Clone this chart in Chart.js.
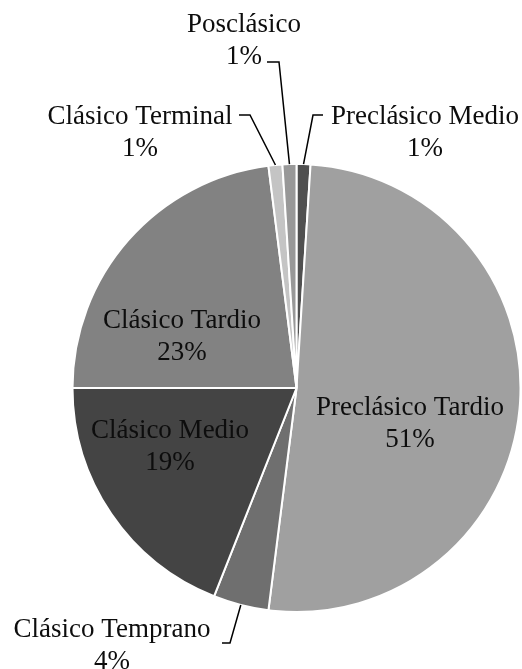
<!DOCTYPE html>
<html>
<head>
<meta charset="utf-8">
<script src="https://cdn.jsdelivr.net/npm/chart.js@4/dist/chart.umd.min.js"></script>
<style>
  html, body { margin: 0; padding: 0; background: #fff; }
  #wrap { width: 522px; height: 669px; }
</style>
</head>
<body>
<div id="wrap"><canvas id="pieChart" width="522" height="669"></canvas></div>
<script>
const periodos = ['Preclásico Medio', 'Preclásico Tardio', 'Clásico Temprano', 'Clásico Medio', 'Clásico Tardio', 'Clásico Terminal', 'Posclásico'];
const porcentajes = [1, 51, 4, 19, 23, 1, 1];
const colores = ['#505050', '#a0a0a0', '#6f6f6f', '#444444', '#828282', '#c4c4c4', '#989898'];

// label placement, offsets from the pie centre (px)
// inside: text centre x + first baseline; outside: also leader start / elbow
const etiquetas = [
  { dx: 128.5, dy: -264, lead: [26.5, -273, 16.5] },
  { dx: 113.5, dy: 27 },
  { dx: -184.5, dy: 249, lead: [-74.5, 255, -66.5] },
  { dx: -126.5, dy: 50 },
  { dx: -114.5, dy: -60 },
  { dx: -156.5, dy: -264, lead: [-57.5, -273, -46.5] },
  { dx: -52.5, dy: -356, lead: [-29.5, -326, -17.5] }
];

const lineHeight = 32;

const labelPlugin = {
  id: 'pieLabels',
  afterDatasetsDraw(chart) {
    const ctx = chart.ctx;
    const meta = chart.getDatasetMeta(0);
    const total = porcentajes.reduce((a, b) => a + b, 0);
    ctx.save();
    ctx.font = '27px "Liberation Serif"';
    ctx.fillStyle = '#0d0d0d';
    ctx.textAlign = 'center';
    ctx.textBaseline = 'alphabetic';
    meta.data.forEach(function (arc, i) {
      const p = arc.getProps(['x', 'y', 'startAngle', 'endAngle', 'outerRadius'], true);
      const lay = etiquetas[i];
      const pct = Math.round(porcentajes[i] / total * 100) + '%';
      ctx.fillText(periodos[i], p.x + lay.dx, p.y + lay.dy);
      ctx.fillText(pct, p.x + lay.dx, p.y + lay.dy + lineHeight);
      if (lay.lead) {
        const mid = (p.startAngle + p.endAngle) / 2;
        const ex = p.x + Math.cos(mid) * p.outerRadius;
        const ey = p.y + Math.sin(mid) * p.outerRadius;
        ctx.beginPath();
        ctx.moveTo(p.x + lay.lead[0], p.y + lay.lead[1]);
        ctx.lineTo(p.x + lay.lead[2], p.y + lay.lead[1]);
        ctx.lineTo(ex, ey);
        ctx.strokeStyle = '#000';
        ctx.lineWidth = 1.5;
        ctx.stroke();
      }
    });
    ctx.restore();
  }
};

const pieCtx = document.getElementById('pieChart').getContext('2d');
const pieChart = new Chart(pieCtx, {
  type: 'pie',
  data: {
    labels: periodos,
    datasets: [{
      data: porcentajes,
      backgroundColor: colores,
      borderColor: '#ffffff',
      borderWidth: 2
    }]
  },
  options: {
    responsive: false,
    animation: false,
    events: [],
    layout: { padding: { left: 71.5, right: 0.5, top: 163, bottom: 56 } },
    plugins: {
      legend: { display: false },
      tooltip: { enabled: false }
    }
  },
  plugins: [labelPlugin]
});
</script>
</body>
</html>
